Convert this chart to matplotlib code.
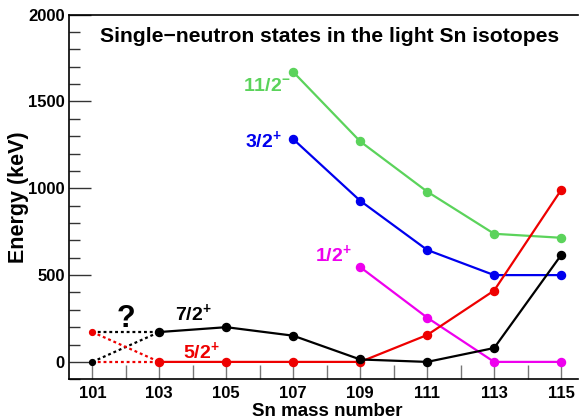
import matplotlib.pyplot as plt
from matplotlib.ticker import MultipleLocator

plt.rcParams['font.family'] = ['Liberation Sans', 'DejaVu Sans']
plt.rcParams['font.weight'] = 'bold'
plt.rcParams['mathtext.fontset'] = 'custom'
plt.rcParams['mathtext.rm'] = 'Liberation Sans:bold'
plt.rcParams['mathtext.it'] = 'Liberation Sans:bold'
plt.rcParams['mathtext.bf'] = 'Liberation Sans:bold'

# level energies (keV) vs Sn mass number
A = [103, 105, 107, 109, 111, 113, 115]
e_72 = [172, 200, 151, 14, 0, 80, 615]
e_52 = [0, 0, 0, 0, 155, 411, 990]
A_h = [107, 109, 111, 113, 115]
e_32 = [1283, 928, 645, 500, 500]
e_112 = [1670, 1270, 981, 738, 715]
A_s = [109, 111, 113, 115]
e_12 = [546, 255, 0, 0]

# 101Sn: two possible orderings of the 5/2+ / 7/2+ pair
A_101 = 101
e_101 = [0, 172]

GREEN = '#5bd35b'
BLUE = '#0000ee'
MAGENTA = '#ee00ee'
RED = '#ee0000'

fig = plt.figure(figsize=(5.79, 4.20), dpi=100)
ax = fig.add_axes([0.119, 0.097, 0.879, 0.868])

lw = 1.6
ms = 5.8
ax.plot(A_h, e_112, '-o', color=GREEN, lw=lw, ms=ms)
ax.plot(A_h, e_32, '-o', color=BLUE, lw=lw, ms=ms)
ax.plot(A_s, e_12, '-o', color=MAGENTA, lw=lw, ms=ms)
ax.plot(A, e_52, '-o', color=RED, lw=lw, ms=ms)
ax.plot(A, e_72, '-o', color='black', lw=lw, ms=ms)

# dotted alternatives towards 101Sn
dot = (0, (1.3, 1.3))
ax.plot([A_101, A[0]], [e_101[0], e_72[0]], ls=dot, color='black', lw=lw)
ax.plot([A_101, A[0]], [e_101[1], e_72[0]], ls=dot, color='black', lw=lw)
ax.plot([A_101, A[0]], [e_101[1], e_52[0]], ls=dot, color=RED, lw=lw)
ax.plot([A_101, A[0]], [e_101[0], e_52[0]], ls=dot, color=RED, lw=lw)
ax.plot([A_101], [e_101[0]], 'o', color='black', ms=4.2)
ax.plot([A_101], [e_101[1]], 'o', color=RED, ms=4.2)

fs = 14
ax.text(101.23, 1844, 'Single\u2212neutron states in the light Sn isotopes',
        fontsize=15.2, ha='left', va='baseline')
ax.text(105.5, 1562, r'11/2$^{-}$', color=GREEN, fontsize=fs,
        ha='left', va='baseline')
ax.text(105.56, 1238, r'3/2$^{+}$', color=BLUE, fontsize=fs,
        ha='left', va='baseline')
ax.text(107.65, 583, r'1/2$^{+}$', color=MAGENTA, fontsize=fs,
        ha='left', va='baseline')
ax.text(103.47, 241, r'7/2$^{+}$', color='black', fontsize=fs,
        ha='left', va='baseline')
ax.text(103.7, 24, r'5/2$^{+}$', color=RED, fontsize=fs,
        ha='left', va='baseline')
ax.text(102.0, 201, '?', color='black', fontsize=22,
        ha='center', va='baseline')

ax.set_xlim(100.3, 115.5)
ax.set_ylim(-100, 2000)
ax.set_xticks(range(101, 116, 2))
ax.xaxis.set_minor_locator(MultipleLocator(1))
ax.yaxis.set_major_locator(MultipleLocator(500))
ax.yaxis.set_minor_locator(MultipleLocator(100))

ax.tick_params(axis='x', which='both', direction='in', length=10, width=1,
               color='#777777', labelsize=12, pad=5)
ax.tick_params(axis='y', which='major', direction='in', length=16, width=1,
               color='#333333', labelsize=12, pad=3)
ax.tick_params(axis='y', which='minor', direction='in', length=8, width=1,
               color='#333333')
for lab in ax.get_xticklabels() + ax.get_yticklabels():
    lab.set_fontweight('bold')

ax.spines['right'].set_visible(False)
for s in ['left', 'bottom', 'top']:
    ax.spines[s].set_linewidth(1.2)

ax.set_xlabel('Sn mass number', fontsize=13.5, fontweight='bold', va='top')
ax.xaxis.set_label_coords(0.508, -0.066)
ax.set_ylabel('Energy (keV)', fontsize=15.5, fontweight='bold')
ax.yaxis.set_label_coords(-0.078, 0.5)

fig.savefig('out.png', dpi=100)
